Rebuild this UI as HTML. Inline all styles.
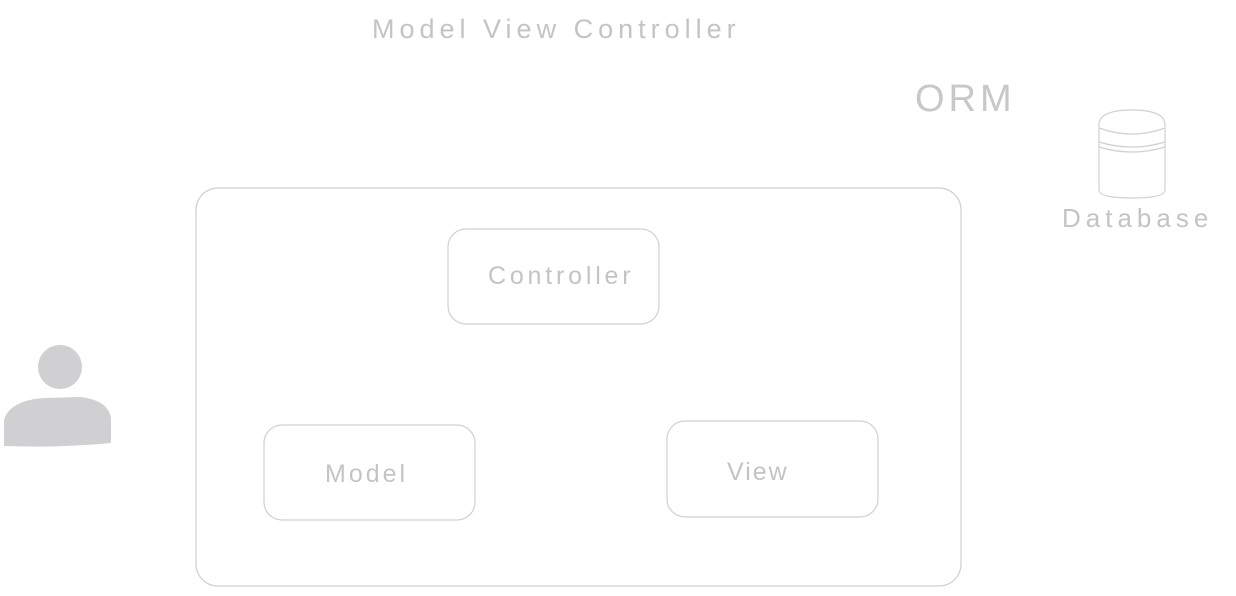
<!DOCTYPE html>
<html><head><style>
body{margin:0;width:1236px;height:596px;background:#fff;overflow:hidden;position:relative;font-family:"Liberation Sans",sans-serif;}
.t{position:absolute;color:#c4c4c4;white-space:nowrap;}
</style></head><body>
<svg width="1236" height="596" style="position:absolute;left:0;top:0" fill="none" stroke="#d0d0d0" stroke-width="1.2">
<rect x="196" y="188" width="765" height="398" rx="22"/>
<rect x="448" y="229" width="211" height="95" rx="18"/>
<rect x="264" y="425" width="211" height="95" rx="18"/>
<rect x="667" y="421" width="211" height="96" rx="18"/>
<path d="M1099 125 Q1099 110 1132 110 Q1165 110 1165 125 L1165 190 Q1165 198 1132 198 Q1099 198 1099 190 Z"/>
<path d="M1099 128 Q1132 140 1165 128"/>
<path d="M1099 142 Q1132 152 1165 142"/>
<path d="M1099 147 Q1132 157 1165 147"/>
<circle cx="60" cy="367" r="22" fill="#d0cfd2" stroke="none"/>
<path d="M4 420 Q10 400 45 398 L80 397 Q108 400 111 418 L111 443 Q60 448 4 446 Z" fill="#d0cfd2" stroke="none"/>
</svg>
<div class="t" style="left:372px;top:14px;font-size:27px;letter-spacing:5px">Model View Controller</div>
<div class="t" style="left:915px;top:78px;font-size:38px;letter-spacing:4px;color:#c8c8c8">ORM</div>
<div class="t" style="left:1062px;top:203px;font-size:26px;letter-spacing:5px">Database</div>
<div class="t" style="left:488px;top:262px;font-size:25px;letter-spacing:3.8px">Controller</div>
<div class="t" style="left:325px;top:460px;font-size:25px;letter-spacing:3px">Model</div>
<div class="t" style="left:727px;top:458px;font-size:25px;letter-spacing:2px">View</div>
</body></html>
